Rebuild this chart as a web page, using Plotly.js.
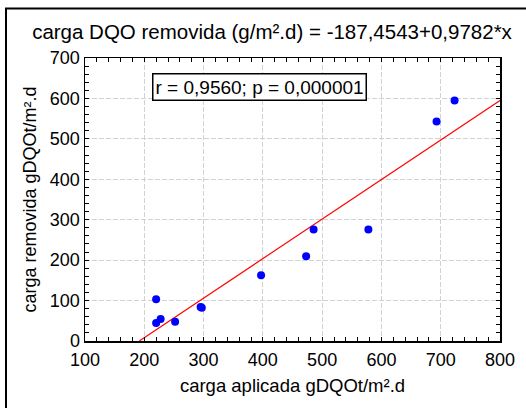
<!DOCTYPE html>
<html>
<head>
<meta charset="utf-8">
<script src="https://cdn.plot.ly/plotly-3.0.1.min.js"></script>
<style>html,body{margin:0;padding:0;background:#fff;}#chart{width:526px;height:408px;}</style>
</head>
<body>
<div id="chart"></div>
<script>
// Data
var cargaAplicada = [220, 220, 227.6, 252, 295, 297, 397, 473, 485.6, 578, 693, 723.4];
var cargaRemovida = [103, 44.5, 54.5, 47.8, 84, 82.5, 162.6, 209.6, 275.5, 275.5, 543, 594.8];
// Regression coefficients as printed in the title
var intercept = [-187.4543];
var slope = [0.9782];
var lineX = [-intercept[0] / slope[0], 800];

var lineY = lineX.map(function (x) { return intercept[0] + slope[0] * x; });

var font = "Liberation Sans, Arial, sans-serif";

var traces = [
  {
    x: lineX, y: lineY, type: "scatter", mode: "lines",
    line: {color: "#ff0000", width: 1.2}, hoverinfo: "skip", showlegend: false
  },
  {
    x: cargaAplicada, y: cargaRemovida, type: "scatter", mode: "markers",
    marker: {color: "#0000ff", size: 8}, showlegend: false
  }
];

var axisCommon = {
  showline: true, linecolor: "#000", linewidth: 1.5, mirror: "ticks",
  ticks: "inside", ticklen: 4, tickwidth: 1, tickcolor: "#000",
  showgrid: true, gridcolor: "#d2d2d2", griddash: "5px,2px", gridwidth: 1,
  zeroline: false,
  tickfont: {family: font, size: 18, color: "#000"}
};

var layout = {
  width: 526, height: 408,
  margin: {l: 85, r: 26, t: 58, b: 67},
  paper_bgcolor: "#fff", plot_bgcolor: "#fff",
  title: {
    text: "carga DQO removida (g/m².d) = -187,4543+0,9782*x",
    font: {family: font, size: 20.5, color: "#000"},
    x: 272 / 526, xanchor: "center", y: 1 - 32 / 408, yanchor: "middle"
  },
  xaxis: Object.assign({}, axisCommon, {
    range: [100, 800], dtick: 100, tick0: 100,
    ticklabelstandoff: 2,
    minor: {dtick: 20, ticks: "inside", ticklen: 4, tickcolor: "#000", showgrid: false},
    title: {text: "carga aplicada gDQOt/m².d", font: {family: font, size: 18.5, color: "#000"}, standoff: 10}
  }),
  yaxis: Object.assign({}, axisCommon, {
    range: [0, 700], dtick: 100, tick0: 0,
    minor: {dtick: 20, ticks: "inside", ticklen: 4, tickcolor: "#000", showgrid: false},
    title: {text: "carga removida gDQOt/m².d", font: {family: font, size: 18, color: "#000"}, standoff: 8}
  }),
  annotations: [{
    xref: "paper", yref: "paper",
    x: (259 - 85) / 415, y: (341 - 87.5) / 283,
    xanchor: "center", yanchor: "middle",
    text: "r = 0,9560; p = 0,000001", showarrow: false,
    font: {family: font, size: 19, color: "#000"},
    bgcolor: "#fff", bordercolor: "#000", borderwidth: 1.5, borderpad: 2
  }],
  shapes: [{
    type: "rect", xref: "paper", yref: "paper",
    x0: (6 - 85) / 415, x1: (540 - 85) / 415,
    y0: (341 - 420) / 283, y1: (341 - 8.5) / 283,
    line: {color: "#000", width: 2}, fillcolor: "rgba(0,0,0,0)", layer: "below"
  }]
};

Plotly.newPlot("chart", traces, layout, {displayModeBar: false, staticPlot: true});
</script>
</body>
</html>
